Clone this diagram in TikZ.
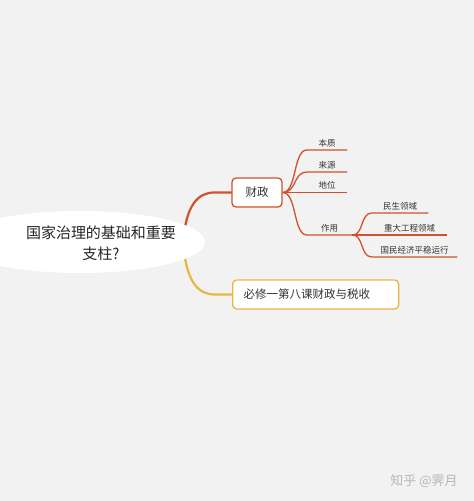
\documentclass[tikz,border=0pt]{standalone}
\usepackage{fontspec}
\setmainfont{Noto Sans CJK SC}
\usetikzlibrary{shapes.geometric}
\pgfdeclarelayer{edges}
\pgfsetlayers{edges,main}
\definecolor{mapbg}{HTML}{F2F2F2}
\definecolor{mapred}{HTML}{D0512C}
\definecolor{mapgold}{HTML}{E8B740}
\definecolor{maptext}{HTML}{333333}
\tikzset{
  hubshape/.style={ellipse, fill=white, minimum width=250pt, minimum height=62pt, inner sep=0pt},
  hubtext/.style={align=center, font=\fontsize{15}{21}\selectfont, text=black!85},
  topicbox/.style={rectangle, rounded corners=4pt, fill=white, line width=1.3pt,
    minimum height=29pt, font=\fontsize{11.5}{14}\selectfont, text=maptext},
  leaf/.style={anchor=south west, inner xsep=0pt, inner ysep=3pt,
    font=\fontsize{8.5}{10}\selectfont, text=maptext},
  mainedge/.style={line width=2.2pt, line cap=round},
  leafedge/.style={mapred, line width=1.3pt},
}
\begin{document}
\begin{tikzpicture}[x=1pt,y=-1pt]
\useasboundingbox (0,0) rectangle (474,501);
\begin{pgfonlayer}{edges}
\fill[mapbg] (0,0) rectangle (474,501);
\end{pgfonlayer}

\node[hubshape] (hubbg) at (80,242) {};
\node[hubtext] (hub) at (101,243) {国家治理的基础和重要\\支柱?};
\node[topicbox, draw=mapred, minimum width=50pt] (caizheng) at (257,192.5) {财政};
\node[topicbox, draw=mapgold, anchor=west, text width=144pt, inner xsep=11pt, align=left] (bixiu) at (232,294.5) {必修一第八课财政与税收};

\node[leaf, minimum width=40pt] (benzhi) at (307,150) {本质};
\node[leaf, minimum width=40pt] (laiyuan) at (307,172) {来源};
\node[leaf, minimum width=40pt] (diwei) at (307,192.5) {地位};
\node[leaf, minimum width=45pt] (zuoyong) at (307,235) {作用};
\node[leaf, minimum width=56pt] (minsheng) at (372,213) {民生领域};
\node[leaf, minimum width=75pt] (zhongda) at (372,235) {重大工程领域};
\node[leaf, minimum width=85pt] (guomin) at (372,257) {国民经济平稳运行};

\node[text=black!28, font=\fontsize{13}{15}\selectfont] (mark) at (424,481) {知乎 @霁月};

\begin{pgfonlayer}{edges}
\draw[mainedge, mapred] ([xshift=-22pt]hubbg.east) .. controls (186,205) and (198,192.5) .. ([xshift=-17pt]caizheng.west) -- (caizheng.west);
\draw[mainedge, mapgold] ([xshift=-22pt]hubbg.east) .. controls (186,282) and (198,294.5) .. ([xshift=-17pt]bixiu.west) -- (bixiu.west);

\draw[leafedge] (caizheng.east) .. controls (297,192.5) and (293,150) .. (benzhi.south west) -- (benzhi.south east);
\draw[leafedge] (caizheng.east) .. controls (297,192.5) and (293,172) .. (laiyuan.south west) -- (laiyuan.south east);
\draw[leafedge] (caizheng.east) -- (diwei.south east);
\draw[leafedge] (caizheng.east) .. controls (297,192.5) and (293,235) .. (zuoyong.south west) -- (zuoyong.south east);

\draw[leafedge] (zuoyong.south east) .. controls (364,235) and (360,213) .. (minsheng.south west) -- (minsheng.south east);
\draw[leafedge] (zuoyong.south east) -- (zhongda.south east);
\draw[leafedge] (zuoyong.south east) .. controls (364,235) and (360,257) .. (guomin.south west) -- (guomin.south east);
\end{pgfonlayer}
\end{tikzpicture}
\end{document}
